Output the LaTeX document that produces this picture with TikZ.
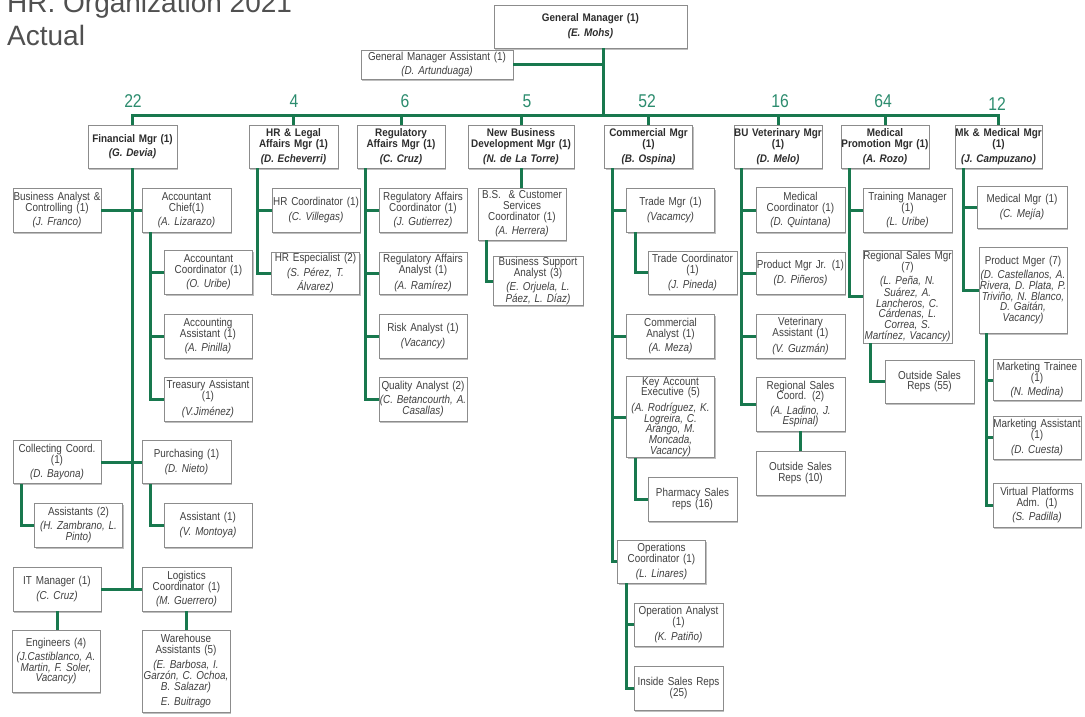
\documentclass[tikz,border=0pt]{standalone}
\usepackage{fontspec}
\setmainfont{Liberation Sans}
\newfontfamily\boxfont{Liberation Sans}[FakeStretch=0.86]
\newfontfamily\mgrfont{Liberation Sans}[FakeStretch=0.9]
\newfontfamily\numfont{Liberation Sans}[FakeStretch=0.85]
\usetikzlibrary{shadows}
\definecolor{linegreen}{RGB}{24,120,78}
\definecolor{numgreen}{RGB}{44,140,110}
\definecolor{txtgray}{RGB}{64,64,64}
\definecolor{boldgray}{RGB}{45,45,45}
\definecolor{boxgray}{RGB}{140,140,140}
\definecolor{titlegray}{RGB}{80,80,80}
\newcommand{\nm}[1]{\\[3.5pt]{\itshape #1}}
\begin{document}
\begin{tikzpicture}[x=1pt,y=-1pt,
 box/.style={draw=boxgray, fill=white, line width=0.7pt,
   drop shadow={shadow xshift=1.2pt, shadow yshift=-1.5pt, fill=black!50, opacity=0.5},
   text width=88pt, minimum height=44pt, inner xsep=0pt, inner ysep=1pt,
   align=center, text=txtgray, font=\boxfont\fontsize{11.5}{10.8}\selectfont},
 mgr/.style={box, text=boldgray, minimum height=43pt, font=\mgrfont\bfseries\fontsize{11}{11.2}\selectfont},
 conn/.style={draw=linegreen, line width=3pt},
 num/.style={text=numgreen, font=\numfont\fontsize{18.5}{18.5}\selectfont, anchor=base, inner sep=0pt},
]
\useasboundingbox[fill=white] (0,0) rectangle (1085,716);

% title
\node[anchor=south west, inner sep=0pt, align=left, text depth=0pt, text=titlegray,
      font=\fontsize{28}{33}\selectfont] (title) at (7,46) {HR. Organization 2021\\Actual};

% top
\node[mgr, text width=193pt] (gm) at (590.5,26.5) {General Manager (1)\nm{(E. Mohs)}};
\node[box, text width=152pt, minimum height=29pt] (gma) at (437,64.5) {General Manager Assistant (1)\nm{(D. Artunduaga)}};

% level 1
\node[mgr, text width=89pt] (fin) at (132.5,146.5) {Financial Mgr (1)\nm{(G. Devia)}};
\node[mgr, text width=89pt] (hr) at (293.5,146.5) {HR \& Legal\\Affairs Mgr (1)\nm{(D. Echeverri)}};
\node[mgr] (reg) at (401,146.5) {Regulatory\\Affairs Mgr (1)\nm{(C. Cruz)}};
\node[mgr, text width=106pt] (nbd) at (521,146.5) {New Business\\Development Mgr (1)\nm{(N. de La Torre)}};
\node[mgr] (com) at (648.5,146.5) {Commercial Mgr\\(1)\nm{(B. Ospina)}};
\node[mgr] (bu) at (778,146.5) {BU Veterinary Mgr\\(1)\nm{(D. Melo)}};
\node[mgr] (mp) at (885,146.5) {Medical\\Promotion Mgr (1)\nm{(A. Rozo)}};
\node[mgr, text width=87pt] (mk) at (998.5,146.5) {Mk \& Medical Mgr\\(1)\nm{(J. Campuzano)}};

% numbers
\node[num] (n1) at (133,107) {22};
\node[num] (n2) at (294,107) {4};
\node[num] (n3) at (405,107) {6};
\node[num] (n4) at (527,107) {5};
\node[num] (n5) at (647,107) {52};
\node[num] (n6) at (780,107) {16};
\node[num] (n7) at (883,107) {64};
\node[num] (n8) at (997,110) {12};

% financial
\node[box] (ba) at (57,210) {Business Analyst \&\\Controlling (1)\nm{(J. Franco)}};
\node[box, text width=89pt] (ac) at (186.5,210) {Accountant\\Chief(1)\nm{(A. Lizarazo)}};
\node[box] (acc) at (208.5,272) {Accountant\\Coordinator (1)\nm{(O. Uribe)}};
\node[box] (aa) at (208,336) {Accounting\\Assistant (1)\nm{(A. Pinilla)}};
\node[box] (ta) at (208,399) {Treasury Assistant\\(1)\nm{(V.Jiménez)}};
\node[box, minimum height=43pt] (cc) at (57,462) {Collecting Coord.\\(1)\nm{(D. Bayona)}};
\node[box, text width=89pt, minimum height=43pt] (pu) at (186.5,462) {Purchasing (1)\nm{(D. Nieto)}};
\node[box] (as2) at (78.5,525) {Assistants (2)\nm{(H. Zambrano, L.\\Pinto)}};
\node[box] (as1) at (208,525) {Assistant (1)\nm{(V. Montoya)}};
\node[box] (it) at (57,589) {IT Manager (1)\nm{(C. Cruz)}};
\node[box, text width=89pt] (lo) at (186.5,589) {Logistics\\Coordinator (1)\nm{(M. Guerrero)}};
\node[box, minimum height=62pt] (en) at (56,661) {Engineers (4)\nm{(J.Castiblanco, A.\\Martin, F. Soler,\\Vacancy)}};
\node[box, minimum height=82pt] (wa) at (186,671) {Warehouse\\Assistants (5)\nm{(E. Barbosa, I.\\Garzón, C. Ochoa,\\B. Salazar)}\nm{E. Buitrago}};

% HR
\node[box] (hrc) at (316,210) {HR Coordinator (1)\nm{(C. Villegas)}};
\node[box, minimum height=42pt] (hre) at (315.5,273) {HR Especialist (2)\nm{(S. Pérez, T.\\Álvarez)}};

% regulatory
\node[box] (rac) at (423,210) {Regulatory Affairs\\Coordinator (1)\nm{(J. Gutierrez)}};
\node[box, minimum height=42pt] (raa) at (423,273) {Regulatory Affairs\\Analyst (1)\nm{(A. Ramírez)}};
\node[box] (ra) at (423,336) {Risk Analyst (1)\nm{(Vacancy)}};
\node[box] (qa) at (423,399) {Quality Analyst (2)\nm{(C. Betancourth, A.\\Casallas)}};

% new business
\node[box, minimum height=52pt] (bs) at (522,214) {B.S.~~\& Customer\\Services\\Coordinator (1)\nm{(A. Herrera)}};
\node[box, text width=90pt] (bsa) at (538,281) {Business Support\\Analyst (3)\nm{(E. Orjuela, L.\\Páez, L. Díaz)}};

% commercial
\node[box] (tm) at (670.5,210) {Trade Mgr (1)\nm{(Vacamcy)}};
\node[box, text width=89pt, minimum height=43pt] (tc) at (692.5,272.5) {Trade Coordinator\\(1)\nm{(J. Pineda)}};
\node[box] (ca) at (670.5,336) {Commercial\\Analyst (1)\nm{(A. Meza)}};
\node[box, minimum height=80pt] (ka) at (670.5,417) {Key Account\\Executive (5)\nm{(A. Rodríguez, K.\\Logreira, C.\\Arango, M.\\Moncada,\\Vacancy)}};
\node[box, text width=89pt] (ph) at (692.5,499) {Pharmacy Sales\\reps (16)};
\node[box, minimum height=43pt] (oc) at (661.5,561.5) {Operations\\Coordinator (1)\nm{(L. Linares)}};
\node[box, text width=89pt, minimum height=43pt] (oa) at (678.5,624.5) {Operation Analyst\\(1)\nm{(K. Patiño)}};
\node[box, text width=89pt] (is) at (678.5,688) {Inside Sales Reps\\(25)};

% BU veterinary
\node[box, text width=89pt, minimum height=45pt] (mc) at (800.5,210) {Medical\\Coordinator (1)\nm{(D. Quintana)}};
\node[box, text width=89pt, minimum height=42pt] (pj) at (800.5,273) {Product Mgr Jr. (1)\nm{(D. Piñeros)}};
\node[box, text width=89pt] (va) at (800.5,336) {Veterinary\\Assistant (1)\nm{(V. Guzmán)}};
\node[box, text width=89pt, minimum height=54pt] (rs) at (800.5,404) {Regional Sales\\Coord. (2)\nm{(A. Ladino, J.\\Espinal)}};
\node[box, text width=89pt] (os10) at (800.5,473) {Outside Sales\\Reps (10)};

% medical promotion
\node[box, text width=89pt] (tr) at (907.5,210) {Training Manager\\(1)\nm{(L. Uribe)}};
\node[box, text width=89pt, minimum height=89pt] (rsm) at (907.5,296.5) {Regional Sales Mgr\\(7)\nm{(L. Peña, N.\\Suárez, A.\\Lancheros, C.\\Cárdenas, L.\\Correa, S.\\Martínez, Vacancy)}};
\node[box, text width=89pt, minimum height=43pt] (os55) at (929.5,381.5) {Outside Sales\\Reps (55)};

% marketing & medical
\node[box, text width=90pt, minimum height=42pt] (mm) at (1022,207) {Medical Mgr (1)\nm{(C. Mejía)}};
\node[box, minimum height=86pt] (pm) at (1023,290) {Product Mger (7)\nm{(D. Castellanos, A.\\Rivera, D. Plata, P.\\Triviño, N. Blanco,\\D. Gaitán,\\Vacancy)}};
\node[box, minimum height=41pt] (mt) at (1037,380) {Marketing Trainee\\(1)\nm{(N. Medina)}};
\node[box, minimum height=43pt] (mas) at (1037,437.5) {Marketing Assistant\\(1)\nm{(D. Cuesta)}};
\node[box] (vp) at (1037,505) {Virtual Platforms\\Adm. (1)\nm{(S. Padilla)}};

% ---------- connectors ----------
\coordinate (busL) at (0,115);
\coordinate (gmx) at ([xshift=12.5pt]gm.south);
\draw[conn] (gmx) -- (gmx |- busL);
\draw[conn] (gma.east) -- (gma.east -| gmx);
\draw[conn] (fin.north) -- (fin.north |- busL) -- (mk.north |- busL) -- (mk.north);
\foreach \m in {hr,reg,nbd,com,bu,mp}{\draw[conn] (\m.north) -- (\m.north |- busL);}

% financial
\draw[conn] (fin.south) -- (fin.south |- lo.west);
\draw[conn] (ba.east) -- (ac.west);
\draw[conn] (cc.east) -- (pu.west);
\draw[conn] (it.east) -- (lo.west);
\coordinate (acT) at ([xshift=9pt]ac.south west);
\draw[conn] (acT) |- (ta.west);
\draw[conn] (acT |- acc.west) -- (acc.west);
\draw[conn] (acT |- aa.west) -- (aa.west);
\draw[conn] ([xshift=9pt]pu.south west) |- (as1.west);
\draw[conn] ([xshift=9pt]cc.south west) |- (as2.west);
\draw[conn] (it.south) -- (it.south |- en.north);
\draw[conn] (lo.south) -- (lo.south |- wa.north);

% HR
\coordinate (hrT) at ([xshift=9pt]hr.south west);
\draw[conn] (hrT) |- (hre.west);
\draw[conn] (hrT |- hrc.west) -- (hrc.west);

% regulatory
\coordinate (regT) at ([xshift=9pt]reg.south west);
\draw[conn] (regT) |- (qa.west);
\foreach \b in {rac,raa,ra}{\draw[conn] (regT |- \b.west) -- (\b.west);}

% new business
\draw[conn] (nbd.south) -- (nbd.south |- bs.north);
\draw[conn] ([xshift=9pt]bs.south west) |- (bsa.west);

% commercial
\coordinate (comT) at ([xshift=8pt]com.south west);
\draw[conn] (comT) |- (oc.west);
\foreach \b in {tm,ca,ka}{\draw[conn] (comT |- \b.west) -- (\b.west);}
\draw[conn] ([xshift=9pt]tm.south west) |- (tc.west);
\draw[conn] ([xshift=9pt]ka.south west) |- (ph.west);
\coordinate (ocT) at ([xshift=9pt]oc.south west);
\draw[conn] (ocT) |- (is.west);
\draw[conn] (ocT |- oa.west) -- (oa.west);

% BU veterinary
\coordinate (buT) at ([xshift=8pt]bu.south west);
\draw[conn] (buT) |- (rs.west);
\foreach \b in {mc,pj,va}{\draw[conn] (buT |- \b.west) -- (\b.west);}
\draw[conn] (rs.south) -- (rs.south |- os10.north);

% medical promotion
\coordinate (mpT) at ([xshift=9pt]mp.south west);
\draw[conn] (mpT) |- (rsm.west);
\draw[conn] (mpT |- tr.west) -- (tr.west);
\draw[conn] ([xshift=8pt]rsm.south west) |- (os55.west);

% marketing & medical
\coordinate (mkT) at ([xshift=9pt]mk.south west);
\draw[conn] (mkT) |- (pm.west);
\draw[conn] (mkT |- mm.west) -- (mm.west);
\coordinate (pmT) at ([xshift=8pt]pm.south west);
\draw[conn] (pmT) |- (vp.west);
\draw[conn] (pmT |- mt.west) -- (mt.west);
\draw[conn] (pmT |- mas.west) -- (mas.west);
\end{tikzpicture}
\end{document}
